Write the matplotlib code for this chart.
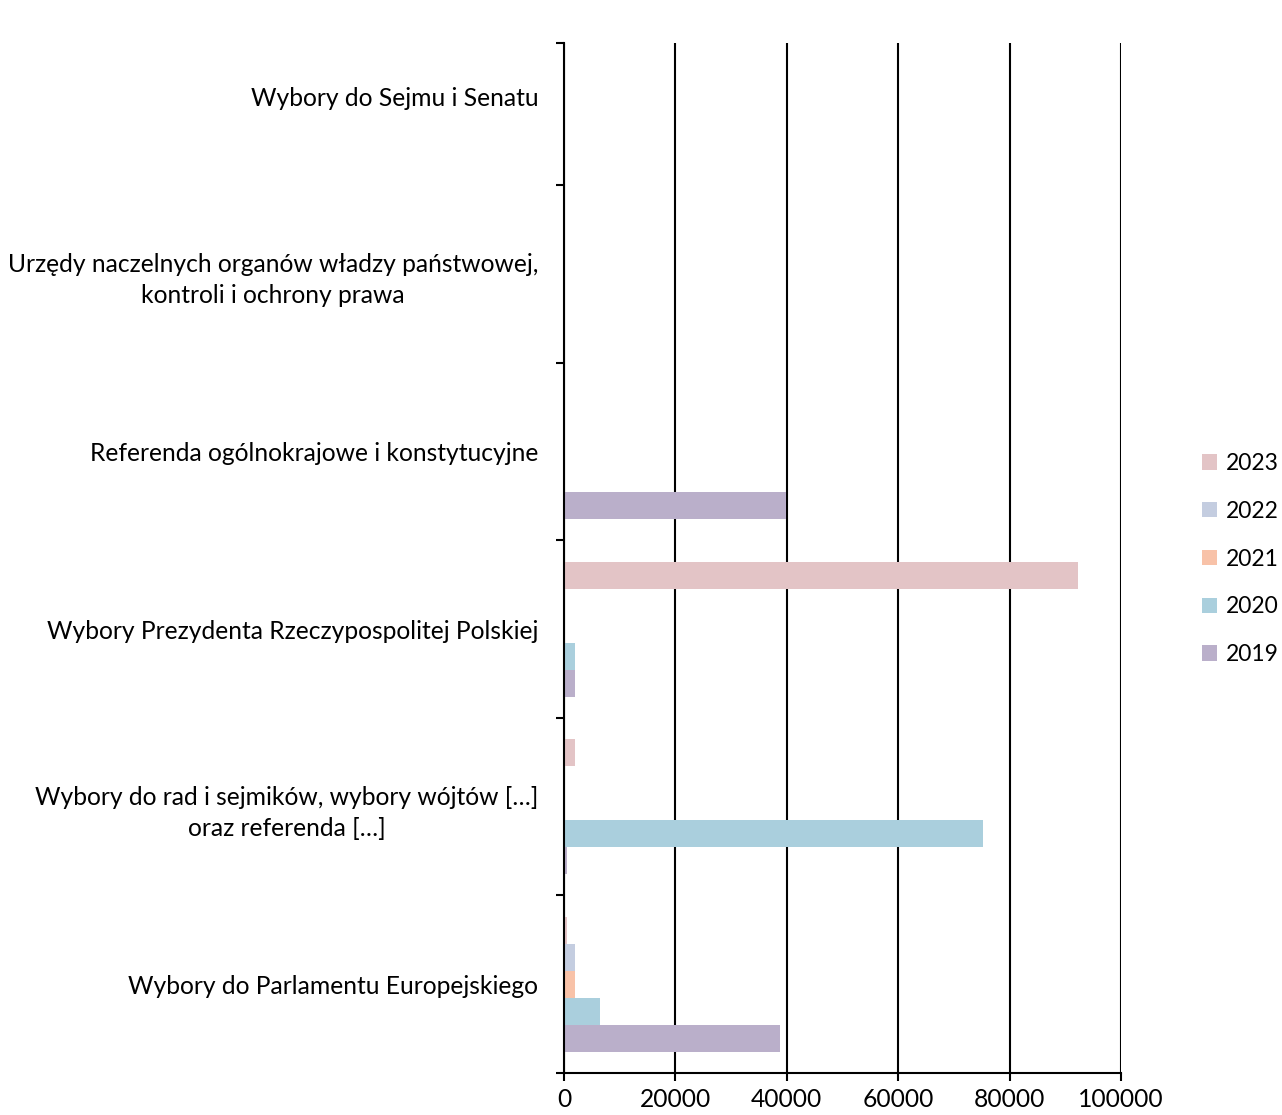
import matplotlib.pyplot as plt
import numpy as np

plt.rcParams['font.family'] = ['Lato', 'DejaVu Sans']

categories = [
    "Wybory do Parlamentu Europejskiego",
    "Wybory do rad i sejmików, wybory wójtów […]\noraz referenda […]",
    "Wybory Prezydenta Rzeczypospolitej Polskiej",
    "Referenda ogólnokrajowe i konstytucyjne",
    "Urzędy naczelnych organów władzy państwowej,\nkontroli i ochrony prawa",
    "Wybory do Sejmu i Senatu",
]
years = ["2019", "2020", "2021", "2022", "2023"]
v2019 = [38800, 500, 2000, 39900, 0, 0]
v2020 = [6500, 75200, 2000, 0, 0, 0]
v2021 = [2000, 0, 0, 0, 0, 0]
v2022 = [2000, 0, 0, 0, 0, 0]
v2023 = [500, 2000, 92200, 0, 0, 0]
series = [v2019, v2020, v2021, v2022, v2023]
colors = ["#BAAFCA", "#AACFDD", "#F8C2A8", "#C4CDE0", "#E3C4C6"]

fs = 17.7

fig = plt.figure(figsize=(12.82, 11.15), dpi=100)
ax = fig.add_axes([0.44, 0.0377, 0.4344, 0.9237])

y = np.arange(len(categories))
h = 0.152
for i, (vals, c, yr) in enumerate(zip(series, colors, years)):
    ax.barh(y + (i - 2) * h, vals, height=h, color=c, linewidth=0,
            label=yr, zorder=3)

ax.set_xlim(0, 100000)
ax.set_ylim(-0.5, 5.3)
ax.set_xticks(np.arange(0, 100001, 20000))
ax.set_yticks(y)
ax.set_yticklabels(categories, multialignment='center', linespacing=1.45)
ax.tick_params(axis='y', which='major', length=0, pad=18.5, labelsize=fs)
ax.set_yticks(list(np.arange(-0.5, 5, 1.0)) + [5.3], minor=True)
ax.tick_params(axis='y', which='minor', length=5.8, width=1.5)
ax.tick_params(axis='x', length=5.8, width=1.5, pad=5, labelsize=fs)
ax.grid(axis='x', color='black', linewidth=1.5, zorder=1)
for s in ['top', 'right']:
    ax.spines[s].set_visible(False)
ax.spines['left'].set_linewidth(1.5)
ax.spines['left'].set_zorder(4)
ax.spines['bottom'].set_linewidth(1.5)

handles, labels = ax.get_legend_handles_labels()
ax.legend(handles[::-1], labels[::-1], loc='center left',
          bbox_to_anchor=(1.113, 0.499), frameon=False, fontsize=16.5,
          handlelength=0.65, handleheight=0.65, handletextpad=0.4,
          labelspacing=1.17, borderpad=0.3)

fig.savefig('out.png', dpi=100)
